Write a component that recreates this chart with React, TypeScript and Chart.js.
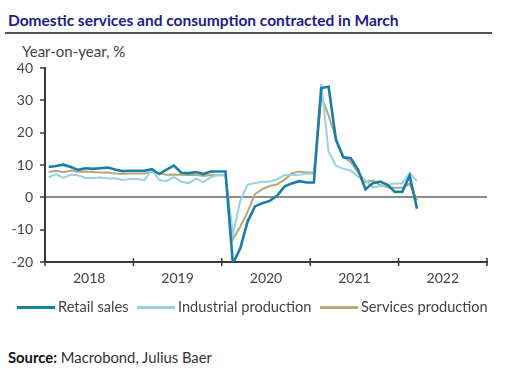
import React, { useEffect, useRef } from "react";
import { Chart, registerables } from "chart.js";

Chart.register(...registerables);

const MONTHS = [
  "2018-01","2018-02","2018-03","2018-04","2018-05","2018-06","2018-07","2018-08","2018-09","2018-10","2018-11","2018-12",
  "2019-01","2019-02","2019-03","2019-04","2019-05","2019-06","2019-07","2019-08","2019-09","2019-10","2019-11","2019-12",
  "2020-01","2020-02","2020-03","2020-04","2020-05","2020-06","2020-07","2020-08","2020-09","2020-10","2020-11","2020-12",
  "2021-01","2021-02","2021-03","2021-04","2021-05","2021-06","2021-07","2021-08","2021-09","2021-10","2021-11","2021-12",
  "2022-01","2022-02","2022-03",
];

const RETAIL = [
  9.4, 9.7, 10.1, 9.4, 8.5, 9.0, 8.8, 9.0, 9.2, 8.6, 8.1, 8.2,
  8.2, 8.2, 8.7, 7.2, 8.6, 9.8, 7.6, 7.5, 7.8, 7.2, 8.0, 8.0,
  8.0, -20.5, -15.8, -7.5, -2.8, -1.8, -1.1, 0.5, 3.3, 4.3, 5.0, 4.6,
  4.6, 33.8, 34.2, 17.7, 12.4, 12.1, 8.5, 2.5, 4.4, 4.9, 3.9, 1.7,
  1.7, 6.7, -3.5,
];

const INDUSTRIAL = [
  6.2, 7.2, 6.0, 7.0, 6.8, 6.0, 6.0, 6.1, 5.8, 5.9, 5.4, 5.7,
  5.7, 5.3, 8.5, 5.4, 5.0, 6.3, 4.8, 4.4, 5.8, 4.7, 6.2, 6.9,
  6.9, -11.5, -1.1, 3.9, 4.4, 4.8, 4.8, 5.6, 6.9, 6.9, 7.0, 7.3,
  7.3, 35.1, 14.1, 9.8, 8.8, 8.3, 6.4, 5.3, 3.1, 3.5, 3.8, 4.3,
  4.3, 7.5, 5.0,
];

const SERVICES = [
  7.8, 8.2, 7.8, 8.3, 7.9, 8.0, 7.8, 7.7, 7.7, 7.4, 7.2, 7.4,
  7.4, 7.4, 7.8, 7.4, 7.0, 7.1, 7.0, 6.9, 7.0, 6.6, 6.9, 6.8,
  6.8, -13.0, -9.1, -4.5, 1.0, 2.5, 3.5, 4.0, 5.4, 7.4, 8.0, 7.7,
  7.7, 31.1, 25.3, 18.2, 12.5, 10.9, 7.8, 4.8, 5.2, 3.8, 3.1, 3.0,
  3.0, 4.2, -0.9,
];

const YEAR_LABELS = ["2018", "2019", "2020", "2021", "2022"];
const Y_TICKS = [-20, -10, 0, 10, 20, 30, 40];

const C_RETAIL = "#1a7fa6";
const C_INDUSTRIAL = "#9ad2e2";
const C_SERVICES = "#b4a87a";
const AXIS = "#3a3a3a";
const FONT = "Lato, 'Open Sans', sans-serif";

function toPoints(values: number[]) {
  return MONTHS.map((_, i) => ({ x: i + 0.5, y: values[i] }));
}

const crossTicks = {
  id: "crossTicks",
  afterDraw(chart: any) {
    const sx = chart.scales.x;
    const ctx = chart.ctx;
    const bottom = chart.chartArea.bottom;
    ctx.save();
    ctx.strokeStyle = AXIS;
    ctx.lineWidth = 1.5;
    for (let k = 0; k <= YEAR_LABELS.length; k++) {
      const px = sx.getPixelForValue(k * 12);
      ctx.beginPath();
      ctx.moveTo(px, bottom - 4);
      ctx.lineTo(px, bottom + 4);
      ctx.stroke();
    }
    ctx.restore();
  },
};

export default function App() {
  const ref = useRef<HTMLCanvasElement | null>(null);

  useEffect(() => {
    if (!ref.current) return;
    const chart = new Chart(ref.current, {
      type: "line",
      data: {
        datasets: [
          {
            label: "Retail sales",
            data: toPoints(RETAIL),
            borderColor: C_RETAIL,
            backgroundColor: C_RETAIL,
            borderWidth: 2.6,
            pointRadius: 0,
            tension: 0,
          },
          {
            label: "Industrial production",
            data: toPoints(INDUSTRIAL),
            borderColor: C_INDUSTRIAL,
            backgroundColor: C_INDUSTRIAL,
            borderWidth: 2,
            pointRadius: 0,
            tension: 0,
          },
          {
            label: "Services production",
            data: toPoints(SERVICES),
            borderColor: C_SERVICES,
            backgroundColor: C_SERVICES,
            borderWidth: 2,
            pointRadius: 0,
            tension: 0,
          },
        ],
      },
      options: {
        responsive: false,
        animation: false,
        layout: { padding: { top: 68, left: 0, right: 34, bottom: 8 } },
        plugins: {
          legend: { display: false },
          tooltip: { enabled: false },
          title: { display: false },
        },
        scales: {
          x: {
            type: "linear",
            min: 0,
            max: 60,
            afterBuildTicks: (scale: any) => {
              scale.ticks = YEAR_LABELS.map((_, i) => ({ value: i * 12 + 6 }));
            },
            afterFit: (scale: any) => {
              scale.height = 30;
            },
            grid: { display: false, drawTicks: false },
            border: { display: true, color: AXIS, width: 2 },
            ticks: {
              autoSkip: false,
              maxRotation: 0,
              padding: 8,
              color: "#444",
              font: { family: FONT, size: 14 },
              callback: (v: any) => YEAR_LABELS[Math.round((Number(v) - 6) / 12)] ?? "",
            },
          },
          y: {
            type: "linear",
            min: -20,
            max: 40,
            afterBuildTicks: (scale: any) => {
              scale.ticks = Y_TICKS.map((v) => ({ value: v }));
            },
            afterFit: (scale: any) => {
              scale.width = 45;
            },
            grid: {
              drawOnChartArea: true,
              color: (c: any) => (c.tick && c.tick.value === 0 ? "#8c8c8c" : "rgba(0,0,0,0)"),
              lineWidth: (c: any) => (c.tick && c.tick.value === 0 ? 2 : 0),
              tickColor: AXIS,
              tickWidth: 1.5,
              tickLength: 5,
            },
            border: { display: true, color: AXIS, width: 2 },
            ticks: {
              padding: 7,
              color: "#444",
              font: { family: FONT, size: 14 },
            },
          },
        },
      },
      plugins: [crossTicks],
    });
    return () => chart.destroy();
  }, []);

  const legendItems = [
    { label: "Retail sales", color: C_RETAIL, x: 17 },
    { label: "Industrial production", color: C_INDUSTRIAL, x: 137 },
    { label: "Services production", color: C_SERVICES, x: 320 },
  ];

  return (
    <div
      style={{
        position: "absolute",
        left: 0,
        top: 0,
        width: 521,
        height: 378,
        background: "#fff",
        fontFamily: FONT,
        overflow: "hidden",
      }}
    >
      <div
        style={{
          position: "absolute",
          left: 8,
          top: 11,
          fontSize: 15.5,
          lineHeight: "18px",
          fontWeight: 700,
          color: "#1c1c8e",
          whiteSpace: "nowrap",
        }}
      >
        Domestic services and consumption contracted in March
      </div>
      <div style={{ position: "absolute", left: 5, top: 32, width: 487, height: 2, background: "#555" }} />
      <div
        style={{
          position: "absolute",
          left: 22,
          top: 42,
          fontSize: 15,
          lineHeight: "18px",
          color: "#444",
          whiteSpace: "nowrap",
        }}
      >
        Year-on-year, %
      </div>
      <canvas ref={ref} width={521} height={300} style={{ position: "absolute", left: 0, top: 0, width: 521, height: 300 }} />
      {legendItems.map((it) => (
        <div
          key={it.label}
          style={{
            position: "absolute",
            left: it.x,
            top: 298,
            height: 18,
            display: "flex",
            alignItems: "center",
            whiteSpace: "nowrap",
          }}
        >
          <span style={{ display: "inline-block", width: 38, height: 3, background: it.color }} />
          <span style={{ marginLeft: 3, fontSize: 14.6, lineHeight: "18px", color: "#444" }}>{it.label}</span>
        </div>
      ))}
      <div
        style={{
          position: "absolute",
          left: 8,
          top: 348,
          fontSize: 14.8,
          lineHeight: "18px",
          color: "#333",
          whiteSpace: "nowrap",
        }}
      >
        <span style={{ fontWeight: 700, color: "#111" }}>Source:</span> Macrobond, Julius Baer
      </div>
    </div>
  );
}
